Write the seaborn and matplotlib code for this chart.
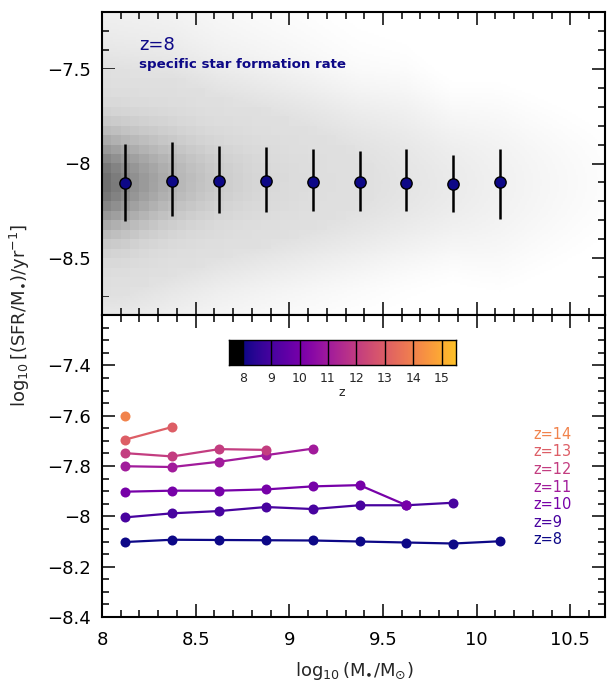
import numpy as np
import pandas as pd
import matplotlib
matplotlib.use("Agg")
import matplotlib.pyplot as plt
from matplotlib.colors import Normalize
from matplotlib.ticker import MultipleLocator, FuncFormatter
import seaborn as sns

# ---------------------------------------------------------------- data
# stellar-mass bin centres, log10(M*/Msun)
mass_bins = [8.125, 8.375, 8.625, 8.875, 9.125, 9.375, 9.625, 9.875, 10.125]

# z=8 sSFR distribution per mass bin: median, 84th and 16th percentiles
ssfr_median_z8 = [-8.102, -8.093, -8.094, -8.095, -8.096, -8.100, -8.104, -8.108, -8.099]
ssfr_p84_z8 = [-7.896, -7.887, -7.908, -7.915, -7.922, -7.935, -7.926, -7.954, -7.922]
ssfr_p16_z8 = [-8.306, -8.279, -8.262, -8.256, -8.253, -8.253, -8.253, -8.256, -8.293]

# median sSFR per mass bin at each redshift
redshifts = [8, 9, 10, 11, 12, 13, 14]
ssfr_z8 = ssfr_median_z8
ssfr_z9 = [-8.004, -7.988, -7.979, -7.963, -7.971, -7.956, -7.956, -7.946]
ssfr_z10 = [-7.902, -7.898, -7.898, -7.893, -7.881, -7.876, -7.956]
ssfr_z11 = [-7.801, -7.804, -7.783, -7.757, -7.731]
ssfr_z12 = [-7.749, -7.762, -7.733, -7.736]
ssfr_z13 = [-7.695, -7.645]
ssfr_z14 = [-7.601]
ssfr_by_z = [ssfr_z8, ssfr_z9, ssfr_z10, ssfr_z11, ssfr_z12, ssfr_z13, ssfr_z14]

# colour scale
z_bar_min, z_bar_max = 7.5, 15.5
z_ticks = [8, 9, 10, 11, 12, 13, 14, 15]

rows = []
for z, vals in zip(redshifts, ssfr_by_z):
    for m, s in zip(mass_bins, vals):
        rows.append({"mass": m, "ssfr": s, "z": z})
df = pd.DataFrame(rows)

# ---------------------------------------------------------------- style
sns.set_theme(style="ticks")
plt.rcParams["font.family"] = ["DejaVu Sans"]
plt.rcParams["mathtext.fontset"] = "dejavusans"
plt.rcParams["axes.linewidth"] = 1.5
plt.rcParams["axes.unicode_minus"] = True

cmap = plt.get_cmap("plasma")
norm = Normalize(8.0, 16.6)
palette = {z: cmap(norm(z)) for z in redshifts}
navy = cmap(norm(8))

W, H = 607, 684
fig = plt.figure(figsize=(W / 100, H / 100), dpi=100)

def fx(px):
    return px / W

def fy(py):
    return 1 - py / H

ax_left, ax_right = 102, 605
ax1 = fig.add_axes([fx(ax_left), fy(315), fx(ax_right - ax_left), (315 - 12) / H])
ax2 = fig.add_axes([fx(ax_left), fy(617), fx(ax_right - ax_left), (617 - 315) / H])

xmin, xmax = 8.0, 10.685

# ------------------------------------------- z=8 population density (top)
# number density falls with mass; scatter in sSFR follows the percentile bars
mass_efold = 0.6
mass_curv = 1.1
solid_thr = 1.0 / 67.0
tail_weight = 0.01
gray_power = 1.25

def density(xc, yc, tails=False):
    med = np.array(ssfr_median_z8)
    mu = np.interp(xc, mass_bins, med)
    s_up = np.interp(xc, mass_bins, np.array(ssfr_p84_z8) - med)
    s_lo = np.interp(xc, mass_bins, med - np.array(ssfr_p16_z8))
    X, Y = np.meshgrid(xc, yc)
    dy = Y - np.broadcast_to(mu, X.shape)
    sig = np.where(dy > 0, np.broadcast_to(s_up, X.shape),
                   np.broadcast_to(s_lo, X.shape))
    u = dy / sig
    amp = np.exp(-(X - 8.0) / mass_efold - ((X - 8.0) / mass_curv) ** 2)
    prof = np.exp(-0.5 * u ** 2)
    if tails:
        prof = prof + tail_weight * np.exp(-0.5 * (u / 2.0) ** 2)
    return amp * prof

# sparse outskirts: fine grid, faint tone
fxe = np.arange(8.0, 10.7001, 0.01)
fye = np.arange(-8.8, -7.1999, 0.01)
Nf = density(0.5 * (fxe[1:] + fxe[:-1]), 0.5 * (fye[1:] + fye[:-1]), tails=True)
frac = np.clip((np.log10(Nf / solid_thr) + 3.5) / 3.5, 0, 1)
tone = 1.0 - 0.12 * frac ** 1.5
tone = np.ma.masked_where(tone > 0.997, tone)
ax1.pcolormesh(fxe, fye, tone, cmap="gray", vmin=0, vmax=1, shading="flat",
               rasterized=True, zorder=0)

# binned core
bxe = np.arange(8.0, 10.7001, 0.05)
bye = np.arange(-8.8, -7.1999, 0.05)
Nb = density(0.5 * (bxe[1:] + bxe[:-1]), 0.5 * (bye[1:] + bye[:-1]))
gray = 0.878 - 0.44 * (Nb / Nb.max()) ** gray_power
gray = np.ma.masked_where(Nb < solid_thr, gray)
ax1.pcolormesh(bxe, bye, gray, cmap="gray", vmin=0, vmax=1, shading="flat",
               zorder=1)

# medians with 16-84 percentile bars
ax1.vlines(mass_bins, ssfr_p16_z8, ssfr_p84_z8, color="black", lw=1.8, zorder=2)
sns.scatterplot(x=mass_bins, y=ssfr_median_z8, ax=ax1, color=navy, s=66,
                edgecolor="black", linewidth=1.0, zorder=3, legend=False)

ax1.text(8.2, -7.373, "z=8", color=navy, fontsize=13, va="center", ha="left")
ax1.text(8.2, -7.479, "specific star formation rate", color=navy, fontsize=9.6,
         fontweight="bold", va="center", ha="left")

ax1.set_xlim(xmin, xmax)
ax1.set_ylim(-8.8, -7.2)
ax1.xaxis.set_major_locator(MultipleLocator(0.5))
ax1.xaxis.set_minor_locator(MultipleLocator(0.1))
ax1.yaxis.set_major_locator(MultipleLocator(0.5))
ax1.yaxis.set_minor_locator(MultipleLocator(0.1))
ax1.set_xticklabels([])
ax1.set_xlabel("")
ax1.set_ylabel("")

# ------------------------------------------- medians vs redshift (bottom)
sns.lineplot(data=df, x="mass", y="ssfr", hue="z", palette=palette, ax=ax2,
             marker="o", markersize=7.2, markeredgewidth=0, linewidth=1.6,
             legend=False, estimator=None, sort=True)

for z in redshifts:
    ax2.text(10.30, -8.094 + 0.07 * (z - 8), f"z={z}", color=palette[z],
             fontsize=10.5, va="center", ha="left")

ax2.set_xlim(xmin, xmax)
ax2.set_ylim(-8.4, -7.2)
ax2.xaxis.set_major_locator(MultipleLocator(0.5))
ax2.xaxis.set_minor_locator(MultipleLocator(0.1))
ax2.yaxis.set_major_locator(MultipleLocator(0.2))
ax2.yaxis.set_minor_locator(MultipleLocator(0.05))
ax2.set_xlabel("")
ax2.set_ylabel("")

def fmt(v, pos):
    s = f"{v:.2f}".rstrip("0").rstrip(".")
    return s.replace("-", "\u2212")

for ax in (ax1, ax2):
    ax.tick_params(which="both", direction="in", top=True, right=True,
                   bottom=True, left=True, colors="black", labelsize=13)
    ax.tick_params(which="major", length=9.5, width=1.1)
    ax.tick_params(which="minor", length=4.8, width=1.1)
    ax.tick_params(axis="y", which="major", pad=8)
    ax.tick_params(axis="x", which="major", pad=10)
    ax.yaxis.set_major_formatter(FuncFormatter(fmt))
    for sp in ax.spines.values():
        sp.set_linewidth(1.5)
        sp.set_color("black")
ax2.xaxis.set_major_formatter(FuncFormatter(fmt))
ax2.set_yticks([-8.4, -8.2, -8.0, -7.8, -7.6, -7.4])
ax2.set_ylim(-8.4, -7.2)

# ------------------------------------------- colour bar
cax = fig.add_axes([fx(228.5), fy(365), fx(455.7 - 228.5), 25 / H])
zz = np.linspace(z_bar_min, z_bar_max, 600)
rgba = cmap(norm(zz))
rgba[zz < 8.0] = (0, 0, 0, 1)
cax.imshow(rgba[None, :, :], extent=[z_bar_min, z_bar_max, 0, 1], aspect="auto")
cax.vlines(z_ticks, 0, 1, color="black", lw=1.0)
cax.set_xlim(z_bar_min, z_bar_max)
cax.set_ylim(0, 1)
cax.set_yticks([])
cax.set_xticks(z_ticks)
cax.set_xticklabels([str(t) for t in z_ticks])
cax.tick_params(axis="x", length=0, labelsize=9, pad=5)
cax.set_xlabel("z", fontsize=9, labelpad=1)
for sp in cax.spines.values():
    sp.set_linewidth(1.0)
    sp.set_color("black")

# ------------------------------------------- axis titles
fig.text(fx(20), fy(315), r"$\log_{10}[(\mathrm{SFR}/\mathrm{M}_{\bullet})/\mathrm{yr}^{-1}]$",
         rotation=90, ha="center", va="center", fontsize=13)
fig.text(fx(354), fy(676), r"$\log_{10}(\mathrm{M}_{\bullet}/\mathrm{M}_{\odot})$",
         ha="center", va="baseline", fontsize=13)

fig.savefig("out.png", dpi=100)
